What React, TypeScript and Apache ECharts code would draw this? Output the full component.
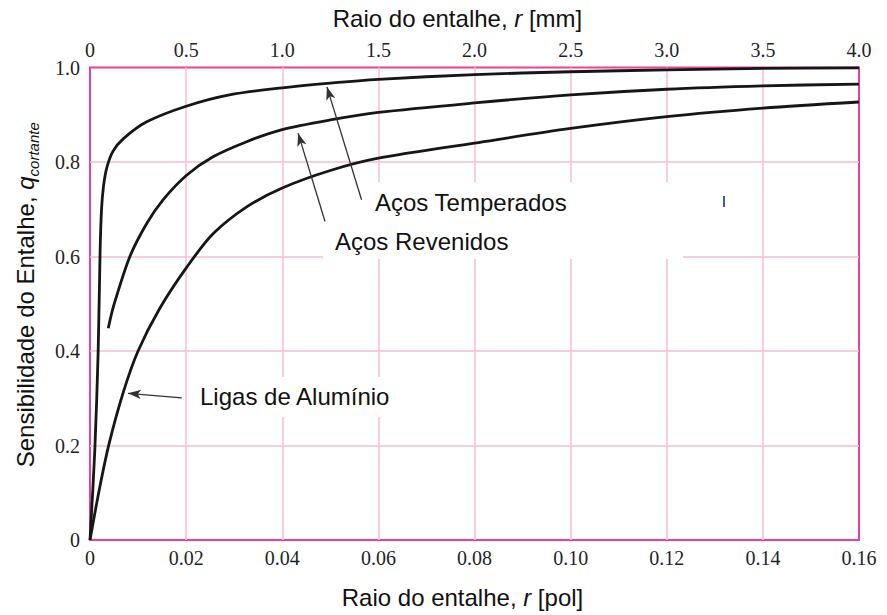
import React, { useEffect, useRef } from 'react';
import * as echarts from 'echarts';

const SERIF = '"Liberation Serif", "Times New Roman", serif';
const SANS = '"Liberation Sans", Arial, sans-serif';

// Raio do entalhe r [pol] and sensitivity q for each material
const temperadosR = [0, 0.001, 0.0017, 0.0021, 0.0024, 0.0028, 0.0035, 0.0048, 0.0069, 0.0118, 0.02, 0.029, 0.04, 0.05, 0.06, 0.08, 0.1, 0.12, 0.14, 0.16];
const temperadosQ = [0, 0.19, 0.4, 0.61, 0.7, 0.748, 0.788, 0.823, 0.849, 0.885, 0.918, 0.942, 0.957, 0.967, 0.975, 0.985, 0.991, 0.995, 0.998, 0.999];

const revenidosR = [0.0038, 0.0049, 0.0083, 0.0118, 0.0152, 0.0201, 0.0256, 0.0326, 0.0398, 0.05, 0.06, 0.08, 0.1, 0.12, 0.14, 0.16];
const revenidosQ = [0.448, 0.495, 0.6, 0.67, 0.72, 0.772, 0.811, 0.843, 0.868, 0.889, 0.905, 0.925, 0.942, 0.954, 0.961, 0.965];

const ligasR = [0, 0.002, 0.004, 0.007, 0.01, 0.0145, 0.0201, 0.0256, 0.0326, 0.04, 0.05, 0.06, 0.08, 0.1, 0.12, 0.14, 0.16];
const ligasQ = [0, 0.11, 0.205, 0.315, 0.4, 0.49, 0.577, 0.648, 0.705, 0.745, 0.782, 0.808, 0.84, 0.871, 0.896, 0.914, 0.927];

// annotation arrows: [tail r, tail q, head r, head q]
const arrowTemperados = [0.0565, 0.72, 0.0493, 0.959];
const arrowRevenidos = [0.0489, 0.674, 0.0433, 0.861];
const arrowLigas = [0.0191, 0.301, 0.0079, 0.3105];

const labelTemperados = 'Aços Temperados';
const labelRevenidos = 'Aços Revenidos';
const labelLigas = 'Ligas de Alumínio';

const pairs = (xs: number[], ys: number[]) => xs.map((x, i) => [x, ys[i]]);
const arrow = (a: number[]) => [[{ coord: [a[0], a[1]] }, { coord: [a[2], a[3]] }]];

const GRID_COLOR = '#f6bdd7';
const FRAME_COLOR = '#ec3f9d';
const CURVE_COLOR = '#161616';
const TICK_COLOR = '#1f1f2b';

export default function App() {
  const ref = useRef<HTMLDivElement>(null);
  useEffect(() => {
    const chart = echarts.init(ref.current!, null, { renderer: 'svg' });
    const markLine = (a: number[]) => ({
      silent: true,
      symbol: ['none', 'arrow'],
      symbolSize: [7, 13],
      label: { show: false },
      emphasis: { disabled: true },
      lineStyle: { color: '#333', width: 1.3, type: 'solid' },
      data: arrow(a),
    });
    const curve = (name: string, xs: number[], ys: number[], a: number[]) => ({
      type: 'line',
      name,
      xAxisIndex: 0,
      data: pairs(xs, ys),
      smooth: 0.3,
      showSymbol: false,
      symbol: 'none',
      lineStyle: { color: CURVE_COLOR, width: 2.8 },
      z: 3,
      emphasis: { disabled: true },
      markLine: markLine(a),
    });
    const option: any = {
      animation: false,
      backgroundColor: '#fff',
      grid: {
        left: 90,
        top: 67.5,
        right: 28,
        bottom: 75,
        show: true,
        borderColor: FRAME_COLOR,
        borderWidth: 2,
        backgroundColor: 'transparent',
      },
      xAxis: [
        {
          type: 'value',
          position: 'bottom',
          min: 0,
          max: 0.16,
          interval: 0.02,
          axisLine: { show: false },
          axisTick: { show: false },
          splitLine: { show: true, showMinLine: false, showMaxLine: false, lineStyle: { color: GRID_COLOR, width: 1.5 } },
          axisLabel: {
            fontFamily: SERIF,
            fontSize: 20,
            color: TICK_COLOR,
            margin: 8,
            formatter: (v: number) => (v === 0 ? '0' : v.toFixed(2)),
          },
          name: 'Raio do entalhe, {i|r} [pol]',
          nameLocation: 'middle',
          nameGap: 45,
          nameTextStyle: {
            fontFamily: SANS,
            fontSize: 24,
            color: '#111',
            padding: [0, 24, 0, 0],
            rich: { i: { fontFamily: SANS, fontSize: 24, color: '#111', fontStyle: 'italic' } },
          },
        },
        {
          type: 'value',
          position: 'top',
          min: 0,
          max: 4,
          interval: 0.5,
          axisLine: { show: false },
          axisTick: { show: false },
          splitLine: { show: false },
          axisLabel: {
            fontFamily: SERIF,
            fontSize: 20,
            color: TICK_COLOR,
            margin: 8,
            formatter: (v: number) => (v === 0 ? '0' : v.toFixed(1)),
          },
          name: 'Raio do entalhe, {i|r} [mm]',
          nameLocation: 'middle',
          nameGap: 37,
          nameTextStyle: {
            fontFamily: SANS,
            fontSize: 24,
            color: '#111',
            padding: [0, 34, 0, 0],
            rich: { i: { fontFamily: SANS, fontSize: 24, color: '#111', fontStyle: 'italic' } },
          },
        },
      ],
      yAxis: {
        type: 'value',
        min: 0,
        max: 1,
        interval: 0.2,
        axisLine: { show: false },
        axisTick: { show: false },
        splitLine: { show: true, showMinLine: false, showMaxLine: false, lineStyle: { color: GRID_COLOR, width: 1.5 } },
        axisLabel: {
          fontFamily: SERIF,
          fontSize: 20,
          color: TICK_COLOR,
          margin: 10,
          formatter: (v: number) => (v === 0 ? '0' : v.toFixed(1)),
        },
        name: '{t|Sensibilidade do Entalhe, }{q|q}{sub|cortante}',
        nameLocation: 'middle',
        nameGap: 49,
        nameTextStyle: {
          fontFamily: SANS,
          fontSize: 24,
          color: '#111',
          lineHeight: 32,
          padding: [0, 0, 0, 18],
          rich: {
            t: { fontFamily: SANS, fontSize: 24, lineHeight: 32, color: '#111', verticalAlign: 'middle' },
            q: { fontFamily: SANS, fontSize: 24, lineHeight: 32, color: '#111', fontStyle: 'italic', verticalAlign: 'middle' },
            sub: { fontFamily: SANS, fontSize: 15, lineHeight: 15, color: '#111', fontStyle: 'italic', verticalAlign: 'bottom' },
          },
        },
      },
      series: [
        curve(labelTemperados, temperadosR, temperadosQ, arrowTemperados),
        curve(labelRevenidos, revenidosR, revenidosQ, arrowRevenidos),
        curve(labelLigas, ligasR, ligasQ, arrowLigas),
      ],
      graphic: [
        { type: 'rect', shape: { x: 323, y: 182, width: 360, height: 77 }, style: { fill: '#fff' }, z: 1, silent: true },
        { type: 'rect', shape: { x: 190, y: 377, width: 212, height: 40 }, style: { fill: '#fff' }, z: 1, silent: true },
        { type: 'text', x: 375, y: 202, z: 10, style: { text: labelTemperados, fontFamily: SANS, fontSize: 24, fill: '#111', verticalAlign: 'middle' } },
        { type: 'text', x: 335, y: 241.5, z: 10, style: { text: labelRevenidos, fontFamily: SANS, fontSize: 24, fill: '#111', verticalAlign: 'middle' } },
        { type: 'text', x: 200, y: 396.5, z: 10, style: { text: labelLigas, fontFamily: SANS, fontSize: 24, fill: '#111', verticalAlign: 'middle' } },
        { type: 'line', shape: { x1: 724, y1: 196, x2: 724, y2: 207 }, style: { stroke: '#3a5bb0', lineWidth: 2 }, z: 10, silent: true },
      ],
    };
    chart.setOption(option);
    return () => chart.dispose();
  }, []);
  return (
    <div
      ref={ref}
      style={{ position: 'absolute', left: 0, top: 0, width: 887, height: 615, background: '#fff' }}
    />
  );
}
